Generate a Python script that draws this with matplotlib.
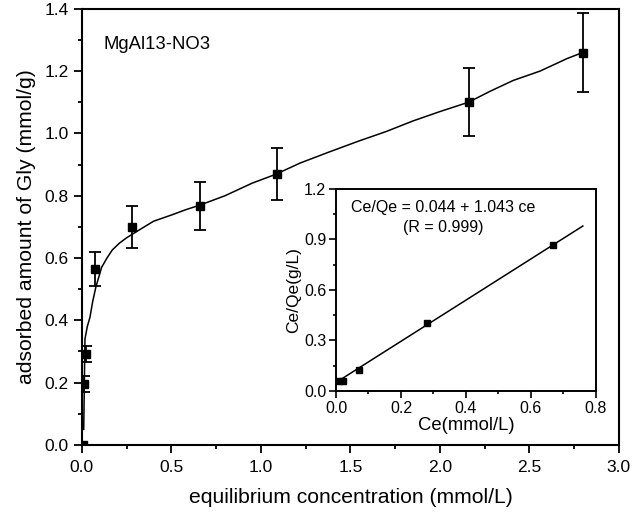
import matplotlib
matplotlib.use("Agg")
import matplotlib.pyplot as plt
from matplotlib.ticker import MultipleLocator

plt.rcParams['font.family'] = ['Liberation Sans', 'DejaVu Sans']

# measured adsorption data (main panel)
ce = [0.005, 0.012, 0.025, 0.075, 0.28, 0.66, 1.09, 2.16, 2.80]
qe = [0.0, 0.196, 0.292, 0.565, 0.700, 0.767, 0.870, 1.101, 1.259]
qe_err = [0.0, 0.025, 0.027, 0.055, 0.068, 0.078, 0.083, 0.110, 0.127]

# fitted curve
fit_x = [0.01, 0.017, 0.03, 0.045, 0.06, 0.078, 0.11, 0.14, 0.17, 0.21, 0.25,
         0.32, 0.40, 0.50, 0.58, 0.66, 0.80, 0.95, 1.08, 1.22, 1.38, 1.54,
         1.70, 1.85, 2.00, 2.16, 2.28, 2.41, 2.56, 2.71, 2.80]
fit_y = [0.05, 0.34, 0.38, 0.41, 0.46, 0.507, 0.57, 0.60, 0.626, 0.648, 0.665,
         0.69, 0.718, 0.738, 0.755, 0.77, 0.80, 0.84, 0.868, 0.905, 0.94, 0.974,
         1.006, 1.04, 1.07, 1.10, 1.135, 1.17, 1.20, 1.24, 1.26]

# linearised (inset) data
lin_x = [0.009, 0.022, 0.071, 0.28, 0.668]
lin_y = [0.06, 0.06, 0.125, 0.404, 0.867]
lin_fit_x = [0.0, 0.76]
lin_fit_y = [0.05, 0.98]

fig = plt.figure(figsize=(6.4, 5.15), dpi=100)
ax = fig.add_axes([0.128, 0.136, 0.839, 0.847])

ax.plot(fit_x, fit_y, color='black', lw=1.1)
ax.errorbar(ce, qe, yerr=qe_err, fmt='s', color='black', ms=6,
            elinewidth=1.3, capsize=4, capthick=1.3)

ax.set_xlim(0, 3.0)
ax.set_ylim(0, 1.4)
ax.xaxis.set_major_locator(MultipleLocator(0.5))
ax.xaxis.set_minor_locator(MultipleLocator(0.25))
ax.yaxis.set_major_locator(MultipleLocator(0.2))
ax.yaxis.set_minor_locator(MultipleLocator(0.1))
ax.xaxis.set_major_formatter(plt.FormatStrFormatter('%.1f'))
ax.yaxis.set_major_formatter(plt.FormatStrFormatter('%.1f'))
ax.tick_params(which='both', direction='out', top=False, right=False,
               width=1.3, labelsize=12.5)
ax.tick_params(axis='x', which='major', pad=5)
ax.tick_params(which='major', length=6)
ax.tick_params(which='minor', length=3)
for s in ax.spines.values():
    s.set_linewidth(1.5)

ax.set_xlabel("equilibrium concentration (mmol/L)", fontsize=15.2, labelpad=9)
ax.set_ylabel("adsorbed amount of Gly (mmol/g)", fontsize=15.2, labelpad=6)
ax.text(0.12, 1.285, "MgAl13-NO3", fontsize=13.3, va='center')

# inset
axi = fig.add_axes([0.525, 0.241, 0.406, 0.392])
axi.plot(lin_fit_x, lin_fit_y, color='black', lw=1.1)
axi.plot(lin_x, lin_y, 's', color='black', ms=5)
axi.set_xlim(0, 0.8)
axi.set_ylim(0, 1.2)
axi.xaxis.set_major_locator(MultipleLocator(0.2))
axi.xaxis.set_minor_locator(MultipleLocator(0.1))
axi.yaxis.set_major_locator(MultipleLocator(0.3))
axi.yaxis.set_minor_locator(MultipleLocator(0.15))
axi.xaxis.set_major_formatter(plt.FormatStrFormatter('%.1f'))
axi.yaxis.set_major_formatter(plt.FormatStrFormatter('%.1f'))
axi.tick_params(which='both', direction='out', top=False, right=False,
                width=1.2, labelsize=11.5, pad=2)
axi.tick_params(which='major', length=5)
axi.tick_params(which='minor', length=2.5)
for s in axi.spines.values():
    s.set_linewidth(1.4)
axi.set_xlabel("Ce(mmol/L)", fontsize=13.3, labelpad=1)
axi.set_ylabel("Ce/Qe(g/L)", fontsize=12.5, labelpad=2)
axi.text(0.33, 1.09, "Ce/Qe = 0.044 + 1.043 ce", fontsize=11.5, ha='center', va='center')
axi.text(0.33, 0.97, "(R = 0.999)", fontsize=11.5, ha='center', va='center')

fig.savefig("out.png", dpi=100)
